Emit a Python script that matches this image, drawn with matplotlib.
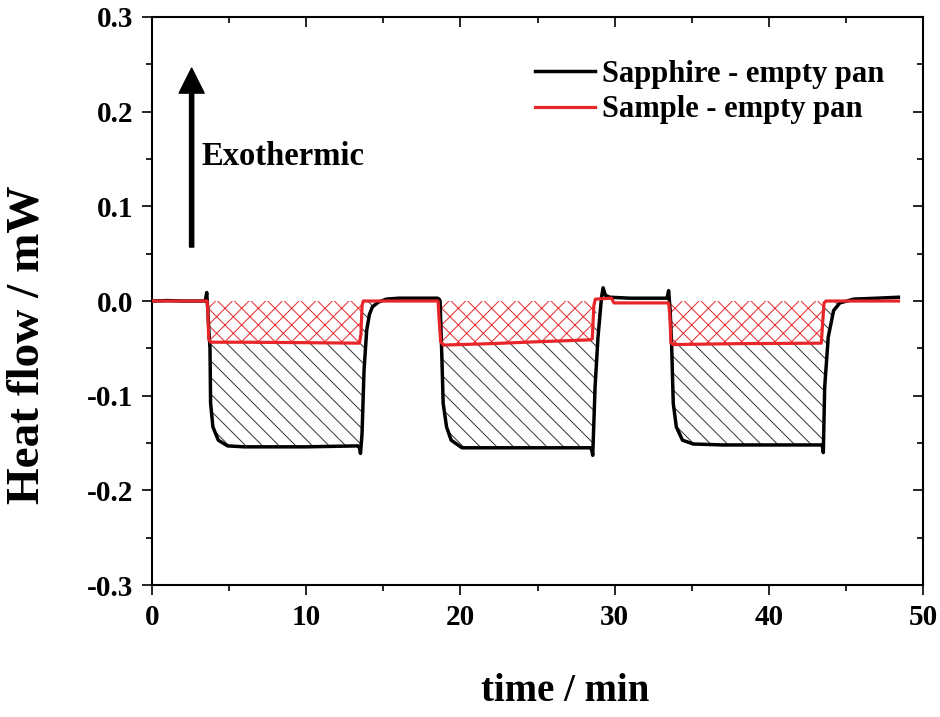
import matplotlib
matplotlib.use("Agg")
import matplotlib.pyplot as plt
from matplotlib.patches import Polygon
from matplotlib.ticker import MultipleLocator, FormatStrFormatter

plt.rcParams["font.family"] = ["Liberation Serif", "DejaVu Serif"]
plt.rcParams["font.weight"] = "bold"
plt.rcParams["axes.unicode_minus"] = False
plt.rcParams["hatch.linewidth"] = 0.7

# Sapphire - empty pan (time in min, heat flow in mW)
t_sapphire = [
    0.0, 1.0, 2.0, 3.0, 3.45, 3.55, 3.62, 3.70, 3.76, 3.80, 3.95, 4.3, 4.9, 6.0,
    10.0, 13.35, 13.45, 13.52, 13.62, 13.75, 13.92, 14.1, 14.3, 14.7, 15.2, 16.0,
    18.5, 18.62, 18.68, 18.79, 18.88, 19.1, 19.4, 20.1, 22.0, 25.0, 28.45,
    28.52, 28.58, 28.73, 28.92, 29.15, 29.25, 29.4, 29.7, 31.0, 33.4, 33.5,
    33.6, 33.7, 33.8, 34.0, 34.4, 35.1, 37.0, 40.0, 43.4, 43.48, 43.53, 43.62,
    43.85, 44.2, 44.6, 45.5, 47.0, 48.4,
]
hf_sapphire = [
    0.0, 0.0005, 0.0, 0.0, 0.0, 0.009, -0.01, -0.035, -0.049, -0.108, -0.133,
    -0.147, -0.153, -0.154, -0.154, -0.153, -0.155, -0.161, -0.14, -0.073,
    -0.031, -0.014, -0.006, -0.001, 0.002, 0.003, 0.003, 0.002, 0.0, -0.056,
    -0.108, -0.133, -0.147, -0.155, -0.155, -0.155, -0.155, -0.158, -0.163,
    -0.091, -0.038, 0.004, 0.014, 0.006, 0.004, 0.003, 0.003, 0.011, -0.01,
    -0.049, -0.108, -0.133, -0.147, -0.151, -0.152, -0.152, -0.152, -0.154,
    -0.160, -0.091, -0.038, -0.01, -0.002, 0.002, 0.003, 0.004,
]

# Sample - empty pan
t_sample = [
    0.0, 3.58, 3.62, 3.68, 3.80, 6.0, 10.0, 13.45, 13.55, 13.62, 13.7, 16.0,
    18.55, 18.62, 18.72, 18.9, 22.0, 25.0, 28.4, 28.55, 28.65, 28.75, 29.8,
    29.95, 33.5, 33.58, 33.65, 33.8, 38.0, 43.4, 43.5, 43.58, 43.7, 48.4,
]
hf_sample = [
    0.0, 0.0, -0.012, -0.040, -0.0435, -0.0435, -0.044, -0.0445, -0.035,
    -0.005, 0.0, 0.0, 0.0, -0.02, -0.043, -0.0465, -0.045, -0.043, -0.041,
    -0.040, -0.005, 0.002, 0.003, -0.002, -0.002, -0.015, -0.044, -0.046,
    -0.045, -0.0445, -0.02, -0.002, 0.0, 0.0,
]

# time windows of the three heating steps
steps = [(3.6, 15.0), (18.6, 29.1), (33.55, 44.6)]


def window(t, y, lo, hi):
    return [(a, b) for a, b in zip(t, y) if lo <= a <= hi]


fig = plt.figure(figsize=(9.4, 7.17), dpi=100)
ax = fig.add_axes([0.1617, 0.184, 0.8203, 0.7923])

for lo, hi in steps:
    black_pts = window(t_sapphire, hf_sapphire, lo, hi)
    red_pts = window(t_sample, hf_sample, lo, hi)
    # hatched band between the sample and sapphire curves
    ax.add_patch(Polygon(black_pts + red_pts[::-1], closed=True, fill=False,
                         hatch="\\\\", edgecolor="#333333", lw=0, zorder=1))
    # cross-hatched band between zero and the sample curve
    zero_pts = [(red_pts[-1][0], 0.0), (red_pts[0][0], 0.0)]
    ax.add_patch(Polygon(red_pts + zero_pts, closed=True, fill=False,
                         hatch="xx", edgecolor="#e8262a", lw=0, zorder=1))

ax.plot(t_sapphire, hf_sapphire, color="black", lw=2.5, zorder=3,
        label="Sapphire - empty pan")
ax.plot(t_sample, hf_sample, color="#e8262a", lw=2.3, zorder=4,
        label="Sample - empty pan")

ax.annotate("", xy=(2.57, 0.246), xytext=(2.57, 0.057),
            arrowprops=dict(width=3, headwidth=18, headlength=18,
                            facecolor="black", edgecolor="black", shrink=0))
ax.text(3.24, 0.153, "Exothermic", fontsize=23.5, fontweight="bold",
        ha="left", va="center")

ax.set_xlim(0, 50)
ax.set_ylim(-0.3, 0.3)
ax.xaxis.set_major_locator(MultipleLocator(10))
ax.xaxis.set_minor_locator(MultipleLocator(5))
ax.yaxis.set_major_locator(MultipleLocator(0.1))
ax.yaxis.set_minor_locator(MultipleLocator(0.05))
ax.yaxis.set_major_formatter(FormatStrFormatter("%.1f"))

for side in ax.spines.values():
    side.set_linewidth(1.5)
ax.tick_params(which="both", direction="out", width=1.2, labelsize=21, pad=6)
ax.tick_params(which="major", length=7.5)
ax.tick_params(which="minor", length=4.5)
ax.tick_params(which="both", top=True, right=True)
# inward ticks on the top and right spines
for tick in ax.xaxis.get_major_ticks() + ax.xaxis.get_minor_ticks():
    tick.tick2line.set_marker(matplotlib.lines.TICKDOWN)
for tick in ax.yaxis.get_major_ticks() + ax.yaxis.get_minor_ticks():
    tick.tick2line.set_marker(matplotlib.lines.TICKLEFT)

ax.set_xlabel("time / min", fontsize=28, fontweight="bold", va="center")
ax.xaxis.set_label_coords(0.5357, -0.188)
ax.set_ylabel("Heat flow / mW", fontsize=34, fontweight="bold",
              ha="center", va="center")
ax.yaxis.set_label_coords(-0.161, 0.4225)

ax.legend(loc="upper left", bbox_to_anchor=(0.497, 0.925), frameon=False,
          fontsize=22, handlelength=1.95, handletextpad=0.25, labelspacing=0.22,
          borderpad=0, borderaxespad=0)

fig.savefig("out.png", dpi=100)
